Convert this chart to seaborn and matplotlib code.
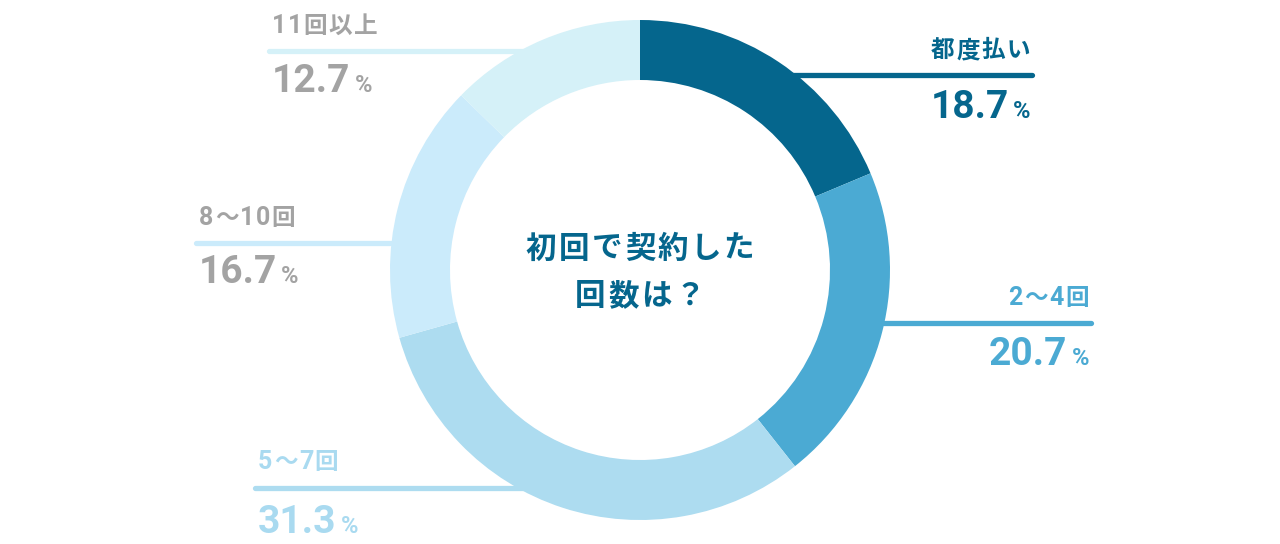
import matplotlib
matplotlib.use("Agg")
import matplotlib.pyplot as plt
import seaborn as sns

# ── Data ──────────────────────────────────────────────────────────────────────
labels = ["都度払い", "2〜4回", "5〜7回", "8〜10回", "11回以上"]
values = [18.7, 20.7, 31.3, 16.7, 12.7]
pct_labels = ["18.7", "20.7", "31.3", "16.7", "12.7"]
center_title = ["初回で契約した", "回数は？"]

# ── Styles ────────────────────────────────────────────────────────────────────
wedge_colors = ["#05668d", "#4baad3", "#addcf0", "#cbebfb", "#d5f1f8"]
text_colors = ["#05668d", "#4baad3", "#a9daf0", "#a3a3a3", "#a3a3a3"]

# label layout in pixel space:
# (anchor x, side, label baseline, line y, number baseline, line inner end)
layout = [
    (1030, "right", 57, 75, 118, 700),
    (1089, "right", 305, 323, 365, 850),
    (258, "left", 469, 488, 533, 580),
    (199, "left", 225, 243, 283, 420),
    (272, "left", 33, 51, 92, 580),
]

sns.set_theme(style="white")
JP = ["Noto Sans CJK JP", "DejaVu Sans"]
NUM = ["Roboto", "Noto Sans CJK JP", "DejaVu Sans"]
plt.rcParams["font.family"] = JP

W, H = 1280, 544
fig = plt.figure(figsize=(W / 100, H / 100), dpi=100)
fig.patch.set_facecolor("white")
ax = fig.add_axes([0, 0, 1, 1])
ax.set_facecolor("white")

# ── Leader lines (drawn first so the ring covers their inner ends) ───────────
for (ax_x, side, ly, liney, base, inner), col in zip(layout, wedge_colors):
    outer = ax_x + 2 if side == "right" else ax_x - 3
    ax.plot([inner, outer], [liney, liney], color=col, lw=3.8,
            solid_capstyle="round", zorder=1)

# ── Donut (y axis inverted -> counterclock in data is clockwise on screen) ───
ax.pie(values, colors=wedge_colors, startangle=-90, counterclock=True,
       center=(640, 270), radius=250,
       wedgeprops=dict(width=60, linewidth=0), frame=True)
for w in ax.patches:
    w.set_zorder(2)

ax.set_xlim(0, W)
ax.set_ylim(H, 0)
ax.set_aspect("auto")
ax.axis("off")

fig.canvas.draw()
rend = fig.canvas.get_renderer()


def measure(s, **kw):
    t = ax.text(0, 0, s, fontweight="bold", **kw)
    w = t.get_window_extent(rend).width
    t.remove()
    return w


def advance(c, **kw):
    # width of the character including its spacing, via a reference glyph
    return measure(c + "回", **kw) - measure("回", **kw)


def spaced_text(x, y, s, ha, spacing, color, props):
    advs = [advance(c, **props(c)) for c in s]
    total = sum(advs) + spacing * (len(s) - 1)
    if ha == "right":
        x = x - total
    elif ha == "center":
        x = x - total / 2
    for c, a in zip(s, advs):
        ax.text(x, y, c, ha="left", va="baseline", fontweight="bold",
                color=color, zorder=3, **props(c))
        x += a + spacing


def label_props(c):
    if c.isascii():
        return dict(family=NUM, fontsize=18)
    return dict(family=JP, fontsize=17)


def title_props(c):
    return dict(family=JP, fontsize=22)


# ── Centre title ──────────────────────────────────────────────────────────────
for line, yy in zip(center_title, [258, 305]):
    spaced_text(640, yy, line, "center", 2.5, "#05668d", title_props)

# ── Labels and percentages ───────────────────────────────────────────────────
gap = 4
for lab, pct, (ax_x, side, ly, liney, base, inner), tc in zip(
        labels, pct_labels, layout, text_colors):
    spaced_text(ax_x, ly, lab, side, 1.5, tc, label_props)
    if side == "left":
        t = ax.text(ax_x, base, pct, ha="left", va="baseline", fontsize=28,
                    fontweight="bold", color=tc, family=NUM, zorder=3)
        w = t.get_window_extent(rend).width
        ax.text(ax_x + w + gap, base, "%", ha="left", va="baseline",
                fontsize=17, fontweight="bold", color=tc, family=NUM, zorder=3)
    else:
        p = ax.text(ax_x, base, "%", ha="right", va="baseline", fontsize=17,
                    fontweight="bold", color=tc, family=NUM, zorder=3)
        w = p.get_window_extent(rend).width
        ax.text(ax_x - w - gap, base, pct, ha="right", va="baseline",
                fontsize=28, fontweight="bold", color=tc, family=NUM, zorder=3)

fig.savefig("out.png", dpi=100, facecolor="white")
plt.close(fig)
